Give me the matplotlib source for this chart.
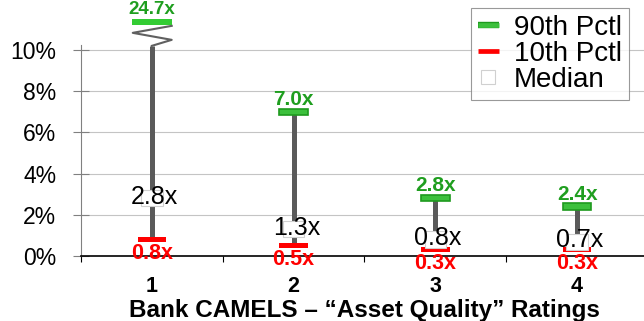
import matplotlib
matplotlib.use("Agg")
import matplotlib.pyplot as plt
import matplotlib.patheffects as pe
from matplotlib.lines import Line2D

plt.rcParams['font.family'] = ['Liberation Sans', 'DejaVu Sans']

# CAMELS "Asset Quality" ratings, loss rate percentiles (%)
ratings = ["1", "2", "3", "4"]
pctl_90 = [24.7, 7.0, 2.8, 2.4]
pctl_10 = [0.8, 0.5, 0.3, 0.3]
median = [2.8, 1.3, 0.8, 0.7]

y_top = 10.24      # top of the value axis
break_at = 10.2    # where the whisker is cut for off-scale values
cap_at = 11.36     # where an off-scale 90th pctl marker sits

GREEN = "#3cc03c"
GREEN_EDGE = "#1e9a1e"
GREEN_TEXT = "#1f9e1f"
RED = "#ff0000"
GRAY = "#5a5a5a"

fig = plt.figure(figsize=(6.44, 3.21), dpi=100)
ax = fig.add_axes([81 / 644, 65 / 321, 567 / 644, 211 / 321])

x = list(range(1, len(ratings) + 1))
top_shown = [v if v <= y_top else cap_at for v in pctl_90]

for xi, lo, hi, shown in zip(x, pctl_10, pctl_90, top_shown):
    line_top = hi if hi <= y_top else break_at
    ax.plot([xi, xi], [lo, line_top], color=GRAY, lw=3.6, zorder=2,
            solid_capstyle='butt', clip_on=False)
    if hi > y_top:
        # zigzag marking the axis break
        zx = [xi + 0.14, xi - 0.135, xi + 0.14, xi]
        zy = [11.17, 10.83, 10.49, break_at]
        ax.plot(zx, zy, color="#606060", lw=1.5, zorder=2, clip_on=False)

# 90th percentile markers
for xi, hi, shown in zip(x, pctl_90, top_shown):
    if hi > y_top:
        ax.bar(xi, 0.26, bottom=shown - 0.13, width=0.277, color="#33cc33",
               linewidth=0, zorder=3, clip_on=False)
    else:
        ax.bar(xi, 0.3, bottom=shown - 0.15, width=0.2, color=GREEN,
               edgecolor=GREEN_EDGE, linewidth=1.2, zorder=3, clip_on=False)

# 10th percentile markers
ax.bar(x, [0.24] * len(x), bottom=[v - 0.12 for v in pctl_10], width=0.2,
       color=RED, linewidth=0, zorder=3)

# median boxes
ax.bar(x, [0.78] * len(x), bottom=[v - 0.39 for v in median], width=0.15,
       color="white", edgecolor="#d0d0d0", linewidth=0.8, zorder=4)

for xi, hi, shown in zip(x, pctl_90, top_shown):
    ax.annotate(f"{hi:.1f}x", (xi, shown), xytext=(0, 9),
                textcoords='offset points', ha='center', va='center',
                fontsize=13.5 if hi > y_top else 15, fontweight='bold',
                color=GREEN_TEXT, zorder=5, annotation_clip=False)

for xi, lo in zip(x, pctl_10):
    ax.annotate(f"{lo:.1f}x", (xi, lo), xytext=(0, -10),
                textcoords='offset points', ha='center', va='center',
                fontsize=15.5, fontweight='bold', color=RED, zorder=5,
                annotation_clip=False)

for xi, md in zip(x, median):
    ax.annotate(f"{md:.1f}x", (xi, md), xytext=(2, 1),
                textcoords='offset points', ha='center', va='center',
                fontsize=18, color="black", zorder=6)

ax.set_xlim(0.5, 4.5)
ax.set_ylim(0, y_top)

ax.set_yticks(range(0, 11, 2))
ax.set_yticklabels([f"{v}%" for v in range(0, 11, 2)], fontsize=16.5)
ax.tick_params(axis='y', direction='inout', length=11.5, width=0.8,
               color="#808080", pad=12)
ax.yaxis.grid(True, color="#c4c4c4", lw=0.8)
ax.set_axisbelow(True)

ax.set_xticks(x)
ax.set_xticklabels(ratings, fontsize=15.5, fontweight='bold')
ax.tick_params(axis='x', which='major', length=0, pad=14.5)
ax.set_xticks([0.5, 1.5, 2.5, 3.5], minor=True)
ax.tick_params(axis='x', which='minor', direction='out', length=4.5,
               width=0.8, color="black")
ax.set_xlabel("Bank CAMELS \u2013 \u201cAsset Quality\u201d Ratings",
              fontsize=17.5, fontweight='bold', labelpad=1.5)

for side in ('top', 'right'):
    ax.spines[side].set_visible(False)
ax.spines['left'].set_color("#808080")
ax.spines['left'].set_linewidth(0.8)
ax.spines['bottom'].set_color("black")
ax.spines['bottom'].set_linewidth(1.2)

handles = [
    Line2D([], [], color=GREEN, lw=3.4, solid_capstyle='butt',
           path_effects=[pe.Stroke(linewidth=4.6, foreground=GREEN_EDGE),
                         pe.Normal()]),
    Line2D([], [], color=RED, lw=3.4, solid_capstyle='butt'),
    Line2D([], [], linestyle='none', marker='s', markersize=10,
           markerfacecolor='white', markeredgecolor="#d0d0d0",
           markeredgewidth=0.8),
]
leg = fig.legend(handles, ["90th Pctl", "10th Pctl", "Median"],
                 loc='upper right', bbox_to_anchor=(629 / 644, 1 - 8 / 321),
                 borderaxespad=0, fontsize=20, frameon=True, fancybox=False,
                 handlelength=0.75, handletextpad=0.55, borderpad=0.25,
                 labelspacing=0.0)
leg.get_frame().set_edgecolor("#808080")
leg.get_frame().set_linewidth(0.8)

fig.savefig("out.png", dpi=100)
